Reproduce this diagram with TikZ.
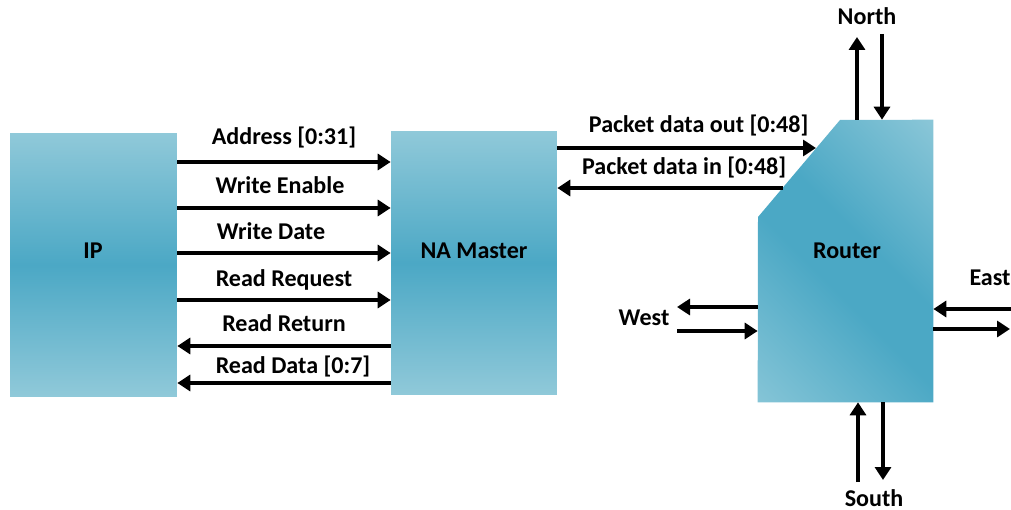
\documentclass[tikz,border=0pt]{standalone}
\usepackage{fontspec}
\setmainfont{Carlito}
\usepackage{tikz}
\usetikzlibrary{arrows.meta}
\definecolor{blocklight}{RGB}{144,201,217}
\definecolor{blockdark}{RGB}{75,168,197}
\definecolor{routerlow}{RGB}{138,199,216}
\pgfdeclareverticalshading{routershade}{100bp}{
    color(0bp)=(routerlow); color(12bp)=(routerlow);
    color(44bp)=(blockdark); color(56bp)=(blockdark);
    color(88bp)=(blocklight); color(100bp)=(blocklight)}
\tikzstyle{block} = [
    rectangle,
    inner sep=0pt,
    top color=blocklight,
    bottom color=blocklight,
    middle color=blockdark
]
\tikzstyle{sig} = [
    -{Triangle[length=0.26cm,width=0.32cm]},
    line width=2.3pt
]
\tikzstyle{txt} = [
    font=\bfseries\fontsize{13.7}{16}\selectfont,
    anchor=base,
    inner sep=0pt
]
\tikzstyle{lbl} = [
    txt,
    yshift=0.3cm
]

\begin{document}
\begin{tikzpicture}[x=0.02cm, y=-0.02cm]
        \useasboundingbox (0,0) rectangle (1011,510);

        % IP and NA master blocks
        \node[block, minimum width=3.34cm, minimum height=5.28cm] (ip) at (93.5,265) {};
        \node[block, minimum width=3.32cm, minimum height=5.28cm] (na) at (474,263) {};
        \node[txt] (iptext) at (93,258) {IP};
        \node[txt] (natext) at (474,258) {NA Master};

        % Bus between IP and NA master
        \draw[sig] (ip.east |- 0,162) -- node[lbl, yshift=0.06cm] {Address [0:31]} (na.west |- 0,162);
        \draw[sig] (ip.east |- 0,208) -- node[lbl, xshift=-0.08cm] {Write Enable} (na.west |- 0,208);
        \draw[sig] (ip.east |- 0,253) -- node[lbl, xshift=-0.26cm, yshift=-0.02cm] {Write Date} (na.west |- 0,253);
        \draw[sig] (ip.east |- 0,300) -- node[lbl, yshift=-0.02cm] {Read Request} (na.west |- 0,300);
        \draw[sig] (na.west |- 0,346) -- node[lbl] {Read Return} (ip.east |- 0,346);
        \draw[sig] (na.west |- 0,383) -- node[lbl, xshift=0.18cm, yshift=-0.1cm] {Read Data [0:7]} (ip.east |- 0,383);

        % Router with cut corner
        \node[minimum width=3.5cm, minimum height=5.64cm, inner sep=0pt] (router) at (845.5,261) {};
        \shade[shading=routershade, shading angle=-45]
            (router.south west) -- (758,217) -- (840,120) -- (router.north east) -- (router.south east) -- cycle;
        \node[txt] (routertext) at (847,258) {Router};

        % Packet links
        \coordinate (pout) at (816,148);
        \coordinate (pin) at (783,188);
        \draw[sig] (na.east |- pout) -- node[lbl, xshift=0.24cm, yshift=0.02cm] {Packet data out [0:48]} (pout);
        \draw[sig] (pin) -- node[lbl, xshift=0.28cm, yshift=-0.02cm] {Packet data in [0:48]} (na.east |- pin);

        % North port
        \coordinate (nout) at (857,37);
        \coordinate (nin) at (882,34);
        \draw[sig] (router.north -| nout) -- (nout);
        \draw[sig] (nin) -- (router.north -| nin);
        \node[txt] (north) at (867,25) {North};

        % South port
        \coordinate (sin) at (858,482);
        \coordinate (sout) at (883,480);
        \draw[sig] (sin) -- (router.south -| sin);
        \draw[sig] (router.south -| sout) -- (sout);
        \node[txt] (south) at (874,506) {South};

        % West port
        \coordinate (wout) at (677,307);
        \coordinate (win) at (677,331);
        \draw[sig] (router.west |- wout) -- (wout);
        \draw[sig] (win) -- (router.west |- win);
        \node[txt] (west) at (644,325) {West};

        % East port
        \coordinate (ein) at (1011,309);
        \coordinate (eout) at (1010,329);
        \draw[sig] (ein) -- (router.east |- ein);
        \draw[sig] (router.east |- eout) -- (eout);
        \node[txt] (east) at (990,285) {East};
    \end{tikzpicture}
\end{document}
